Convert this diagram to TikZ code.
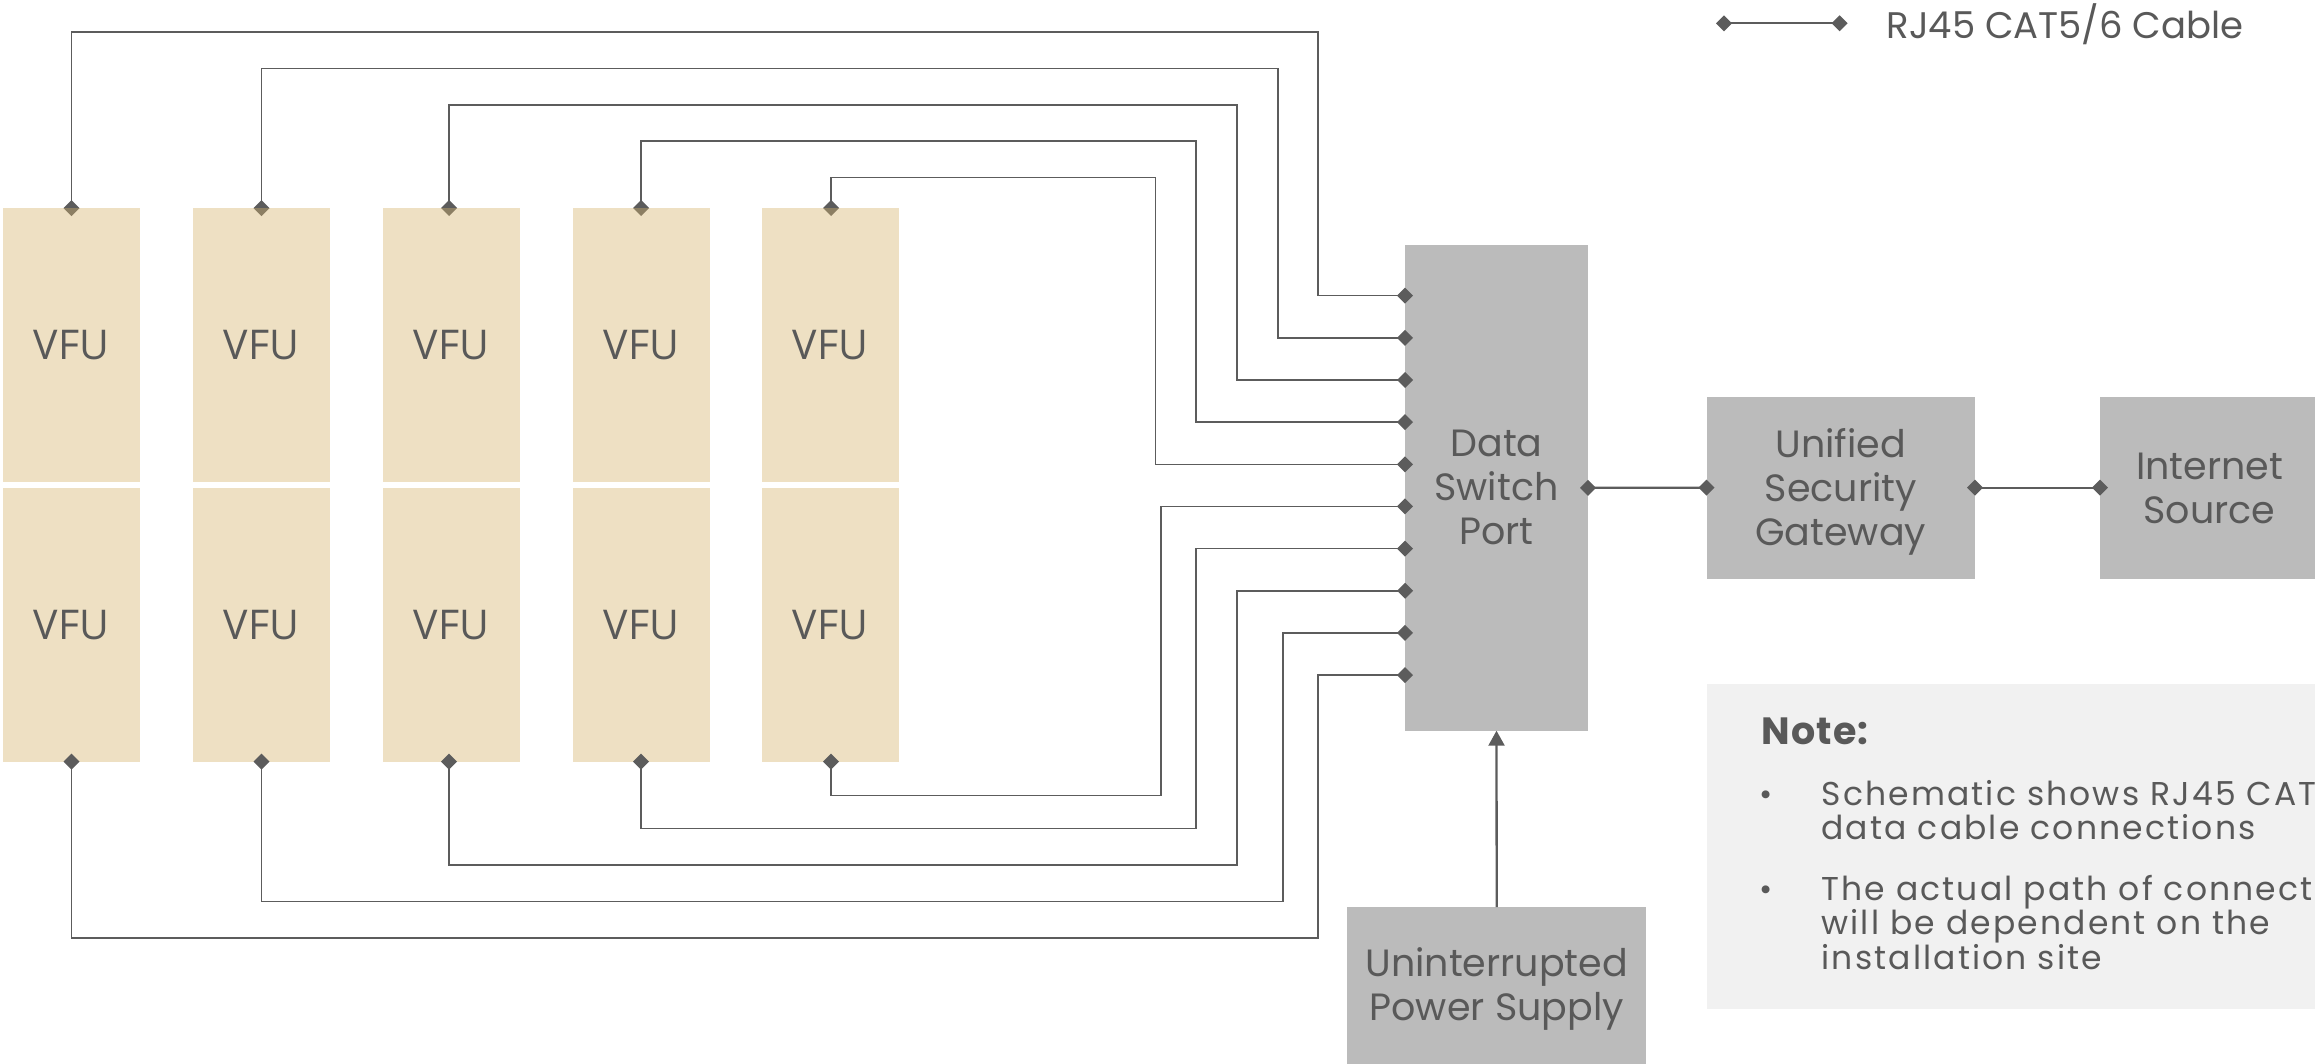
\documentclass[tikz,border=0pt]{standalone}
\usepackage{fontspec}
\setmainfont{Poppins}
\newfontfamily\vfufont{Open Sans}
\newfontfamily\notefont[LetterSpace=6.5]{Poppins}
\newfontfamily\noteheadfont[LetterSpace=3]{Poppins}
\usetikzlibrary{arrows.meta,calc}
\definecolor{vfutan}{HTML}{EEE0C3}
\definecolor{boxgray}{HTML}{BBBBBB}
\definecolor{txtgray}{HTML}{595959}
\definecolor{wiregray}{HTML}{5C5C5C}
\definecolor{notebg}{HTML}{F1F1F1}
\definecolor{dmdbrown}{HTML}{8C7F63}
\tikzset{
  vfubox/.style={fill=vfutan, draw=none, inner sep=0, outer sep=0, minimum width=137, minimum height=273.7, text=txtgray, font=\vfufont\fontsize{41}{48}\selectfont},
  graybox/.style={fill=boxgray, draw=none, inner sep=0, outer sep=0},
  boxtext/.style={text=txtgray, align=center, inner sep=0, outer sep=0, font=\fontsize{38}{44}\selectfont},
  wire/.style={draw=wiregray, line width=1.5},
  thickwire/.style={draw=wiregray, line width=2.3},
  label/.style={text=txtgray, inner sep=0, outer sep=0},
  notetext/.style={label, anchor=base west, font=\notefont\fontsize{33}{33}\selectfont},
}
\newcommand{\dmd}[1]{\fill[wiregray] (#1) +(-8,0) -- +(0,-8) -- +(8,0) -- +(0,8) -- cycle;}
\newcommand{\dmdtop}[1]{\fill[wiregray] (#1) +(-8,0) -- +(0,-8) -- +(8,0) -- cycle;
  \fill[dmdbrown] (#1) +(-8,0) -- +(0,8) -- +(8,0) -- cycle;}
\begin{document}
\begin{tikzpicture}[x=1pt,y=-1pt]
\useasboundingbox (0,0) rectangle (2315,1063);
\clip (0,0) rectangle (2315,1063);
% VFU boxes
\foreach \c/\x in {1/71.5,2/261.5,3/451.5,4/641.5,5/830.5}{
  \node[vfubox] (vu\c) at (\x,344.85) {VFU};
  \node[vfubox] (vl\c) at (\x,624.85) {VFU};
}
% switch and others
\node[graybox, minimum width=183, minimum height=485.7] (sw) at (1496.5,487.85) {};
\node[boxtext] (swt) at (1496.5,487.85) {Data\\Switch\\Port};
\node[graybox, minimum width=268.5, minimum height=182] (usg) at (1840.75,487.7) {};
\node[boxtext] (usgt) at (1840.75,492) {Unified\\Security\\Gateway};
\node[graybox, minimum width=219, minimum height=182] (inet) at (2209.5,487.7) {};
\node[boxtext] (inett) at (2209.5,488.5) {Internet\\Source};
\node[graybox, minimum width=299.4, minimum height=157] (ups) at (1496.7,985.5) {};
\node[boxtext] (upst) at (1496.7,989) {Uninterrupted\\Power Supply};
% note box
\fill[notebg] (1706.7,684) rectangle (2330,1009);
\node[label, anchor=base west, font=\noteheadfont\bfseries\fontsize{38}{44}\selectfont] (notehead) at (1761.7,744) {Note:};
\node[label, anchor=base, font=\fontsize{32}{32}\selectfont] (b1) at (1766,805) {•};
\node[label, anchor=base, font=\fontsize{32}{32}\selectfont] (b2) at (1766,900) {•};
\node[notetext] (n1a) at (1821.5,805) {Schematic shows RJ45 CAT5/6};
\node[notetext] (n1b) at (1821.5,839.5) {data cable connections};
\node[notetext] (n2a) at (1821.5,900) {The actual path of connections};
\node[notetext] (n2b) at (1821.5,934.5) {will be dependent on the};
\node[notetext] (n2c) at (1821.5,969) {installation site};
% legend
\coordinate (lg1) at (1724,23.3);
\coordinate (lg2) at (1839.6,23.3);
\draw[thickwire] (lg1) -- (lg2);
\dmd{lg1}\dmd{lg2}
\node[label, anchor=base west, font=\fontsize{37}{44}\selectfont] (legtxt) at (1886.6,38.3) {RJ45 CAT5/6 Cable};
% ports
\foreach \k in {1,...,10}{
  \coordinate (p\k) at ($(1405,295.7)+(0,{42.15*(\k-1)})$);
}
% upper wires
\foreach \c/\x/\hy/\vx in {1/71.5/32/1318,2/261.5/68.3/1278,3/449/105/1237,4/641/141/1196,5/831/177.3/1155.5}{
  \coordinate (ut\c) at (\x,208);
  \draw[wire] (ut\c) |- (\vx,\hy) |- (p\c);
}
% lower wires
\foreach \c/\x/\hy/\vx/\p in {5/831/795.7/1161/6,4/641/828.7/1196/7,3/449/865/1237/8,2/261.5/901.7/1283/9,1/71.5/938/1318/10}{
  \coordinate (lb\c) at (\x,761.7);
  \draw[wire] (lb\c) |- (\vx,\hy) |- (p\p);
}
% chain
\coordinate (swr) at (sw.east);
\coordinate (usgl) at (usg.west);
\coordinate (usgr) at (usg.east);
\coordinate (inetl) at (inet.west);
\draw[thickwire] (swr) -- (usgl);
\draw[thickwire] (usgr) -- (inetl);
\dmd{swr}\dmd{usgl}\dmd{usgr}\dmd{inetl}
% power arrow
\draw[thickwire, -{Triangle[length=15,width=16]}] (ups.north) -- (sw.south);
% diamonds
\foreach \k in {1,...,10}{\dmd{p\k}}
\foreach \c in {1,...,5}{\dmd{lb\c}\dmdtop{ut\c}}
\end{tikzpicture}
\end{document}
